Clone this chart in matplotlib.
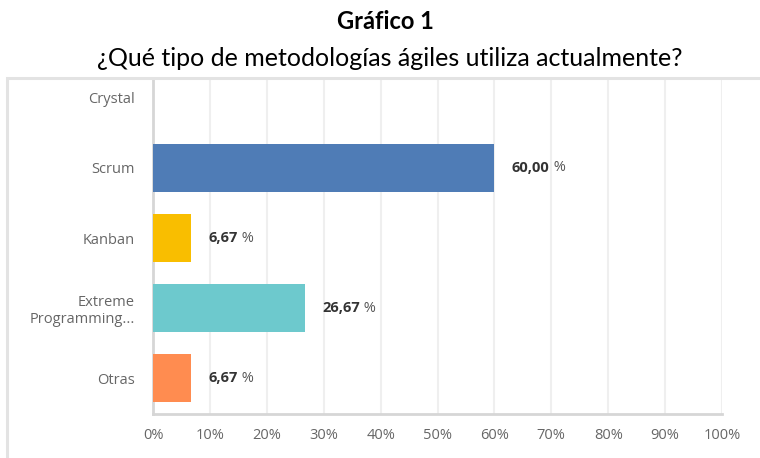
import matplotlib
matplotlib.use("Agg")
import matplotlib.pyplot as plt
from matplotlib.patches import Rectangle

# data (bottom to top as drawn)
categories = ["Otras", "Extreme\nProgramming...", "Kanban", "Scrum", "Crystal"]
values = [6.67, 26.67, 6.67, 60.00, 0.0]
labels = ["6,67", "26,67", "6,67", "60,00", None]
colors = ["#ff8c50", "#6dc9cd", "#f9be00", "#4f7cb6", "#cccccc"]
xticks = list(range(0, 101, 10))
xticklabels = [f"{t}%" for t in xticks]

TICK_FONT = "Open Sans"

fig = plt.figure(figsize=(7.6, 4.58), dpi=100)

# outer gray frame
fig.patches.append(Rectangle((7 / 760, -0.01), 1.0, (458 - 78) / 458 + 0.01,
                             transform=fig.transFigure, fill=False,
                             edgecolor="#e3e3e3", linewidth=2.2, zorder=0))

fig.text(0.507, 0.953, "Gráfico 1", ha="center", va="center",
         fontsize=17, fontweight="bold", family="Lato", color="#000000")
fig.text(0.513, 0.872, "¿Qué tipo de metodologías ágiles utiliza actualmente?",
         ha="center", va="center", fontsize=18, family="Lato", color="#000000")

ax = fig.add_axes([153 / 760, 44 / 458, (722 - 153) / 760, (414 - 80) / 458])
ypos = list(range(len(categories)))
ax.barh(ypos, values, height=0.686, color=colors, edgecolor="none", zorder=3)

ax.set_xlim(0, 100)
ax.set_ylim(-0.514, 4.257)
ax.set_xticks(xticks)
ax.set_xticklabels(xticklabels)
ax.set_yticks(ypos)
ax.set_yticklabels(categories, ha="right", multialignment="right")
ax.tick_params(axis="both", length=0, labelsize=10.5, labelcolor="#666666")
ax.tick_params(axis="x", pad=10)
ax.tick_params(axis="y", pad=13)
for t in ax.get_xticklabels() + ax.get_yticklabels():
    t.set_family(TICK_FONT)

ax.grid(axis="x", color="#efefef", linewidth=1.5, zorder=0)
ax.set_axisbelow(True)
for s in ["top", "right"]:
    ax.spines[s].set_visible(False)
for s in ["left", "bottom"]:
    ax.spines[s].set_color("#d6d6d6")
    ax.spines[s].set_linewidth(2)

for y, v, lab in zip(ypos, values, labels):
    if lab is None:
        continue
    t = ax.annotate(lab, xy=(v, y), xytext=(12.5, 0), textcoords="offset points",
                    ha="left", va="center", fontsize=10.5, fontweight="bold",
                    family=TICK_FONT, color="#333333")
    ax.annotate(" %", xy=(1, 0.5), xycoords=t, ha="left", va="center",
                fontsize=10.5, family=TICK_FONT, color="#555555")

fig.savefig("out.png", dpi=100)
